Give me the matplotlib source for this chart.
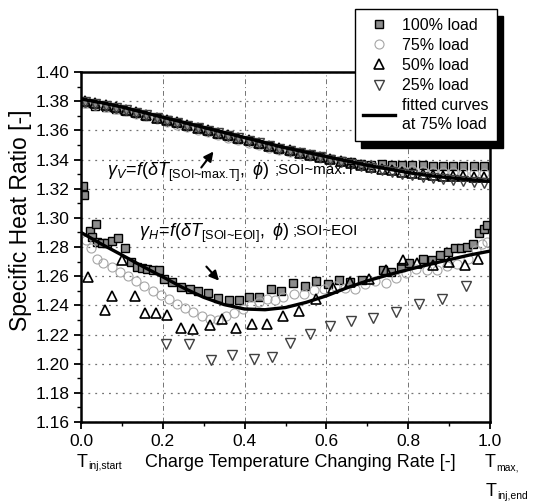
import numpy as np
import matplotlib
matplotlib.use("Agg")
import matplotlib.pyplot as plt
from matplotlib.patches import Rectangle

plt.rcParams['font.family'] = ['Liberation Sans', 'DejaVu Sans']
plt.rcParams['mathtext.fontset'] = 'custom'
plt.rcParams['mathtext.rm'] = 'Liberation Sans'
plt.rcParams['mathtext.it'] = 'Liberation Sans:italic'
plt.rcParams['mathtext.bf'] = 'Liberation Sans:bold'

# --- data ---
# upper group (gamma_V), common x positions
x_up = [0.010, 0.035, 0.060, 0.085, 0.110, 0.135, 0.160, 0.185, 0.210, 0.235,
        0.260, 0.285, 0.310, 0.335, 0.360, 0.385, 0.410, 0.435, 0.460, 0.485,
        0.510, 0.535, 0.560, 0.585, 0.610, 0.635, 0.660, 0.685, 0.710, 0.735,
        0.760, 0.785, 0.810, 0.835, 0.860, 0.885, 0.910, 0.935, 0.960, 0.985]
up_100 = [1.3785, 1.3770, 1.3762, 1.3748, 1.3735, 1.3718, 1.3700, 1.3685, 1.3668, 1.3650,
          1.3632, 1.3615, 1.3595, 1.3578, 1.3560, 1.3542, 1.3525, 1.3508, 1.3490, 1.3475,
          1.3458, 1.3445, 1.3432, 1.3418, 1.3405, 1.3392, 1.3382, 1.3372, 1.3365, 1.3368,
          1.3365, 1.3362, 1.3360, 1.3360, 1.3358, 1.3358, 1.3357, 1.3357, 1.3356, 1.3356]
up_100_start_x = [0.004, 0.007]
up_100_start_y = [1.3220, 1.3160]
up_75 = [1.3790, 1.3775, 1.3760, 1.3745, 1.3730, 1.3712, 1.3695, 1.3676, 1.3658, 1.3640,
         1.3622, 1.3605, 1.3587, 1.3568, 1.3550, 1.3533, 1.3515, 1.3498, 1.3482, 1.3467,
         1.3452, 1.3438, 1.3424, 1.3410, 1.3398, 1.3386, 1.3375, 1.3364, 1.3354, 1.3345,
         1.3337, 1.3330, 1.3325, 1.3320, 1.3316, 1.3313, 1.3311, 1.3310, 1.3309, 1.3308]
up_50 = [1.3800, 1.3786, 1.3772, 1.3757, 1.3741, 1.3724, 1.3706, 1.3688, 1.3671, 1.3654,
         1.3636, 1.3619, 1.3601, 1.3584, 1.3566, 1.3549, 1.3531, 1.3514, 1.3496, 1.3480,
         1.3463, 1.3448, 1.3433, 1.3419, 1.3404, 1.3390, 1.3376, 1.3362, 1.3349, 1.3337,
         1.3326, 1.3315, 1.3306, 1.3298, 1.3292, 1.3288, 1.3285, 1.3284, 1.3283, 1.3282]
up_25 = [1.3795, 1.3782, 1.3768, 1.3753, 1.3737, 1.3720, 1.3702, 1.3684, 1.3667, 1.3650,
         1.3632, 1.3615, 1.3597, 1.3580, 1.3562, 1.3545, 1.3527, 1.3510, 1.3492, 1.3475,
         1.3459, 1.3444, 1.3429, 1.3414, 1.3399, 1.3384, 1.3369, 1.3355, 1.3341, 1.3328,
         1.3316, 1.3304, 1.3293, 1.3283, 1.3274, 1.3266, 1.3259, 1.3252, 1.3246, 1.3240]

# lower group (gamma_H)
lo_100_x = [0.023, 0.037, 0.027, 0.039, 0.051, 0.064, 0.076, 0.090, 0.107, 0.122,
            0.137, 0.150, 0.162, 0.175, 0.190, 0.204, 0.223, 0.245, 0.266, 0.287,
            0.311, 0.335, 0.361, 0.386, 0.411, 0.436, 0.464, 0.489, 0.519, 0.548,
            0.575, 0.603, 0.632, 0.658, 0.687, 0.738, 0.758, 0.783, 0.803, 0.836,
            0.858, 0.878, 0.898, 0.915, 0.930, 0.944, 0.958, 0.974, 0.985, 0.993]
lo_100_y = [1.2908, 1.2960, 1.2867, 1.2832, 1.2826, 1.2830, 1.2844, 1.2860, 1.2790, 1.2696,
            1.2665, 1.2655, 1.2646, 1.2640, 1.2642, 1.2580, 1.2563, 1.2524, 1.2512, 1.2496,
            1.2487, 1.2450, 1.2440, 1.2434, 1.2456, 1.2460, 1.2514, 1.2500, 1.2552, 1.2530,
            1.2570, 1.2543, 1.2571, 1.2560, 1.2571, 1.2645, 1.2628, 1.2663, 1.2690, 1.2720,
            1.2708, 1.2743, 1.2765, 1.2790, 1.2795, 1.2800, 1.2823, 1.2898, 1.2926, 1.2949]
lo_75_x = [0.012, 0.025, 0.038, 0.055, 0.075, 0.095, 0.115, 0.135, 0.155, 0.175,
           0.195, 0.215, 0.235, 0.255, 0.275, 0.295, 0.315, 0.335, 0.355, 0.375,
           0.395, 0.415, 0.435, 0.455, 0.475, 0.495, 0.520, 0.545, 0.570, 0.595,
           0.620, 0.645, 0.670, 0.695, 0.720, 0.745, 0.770, 0.795, 0.820, 0.845,
           0.870, 0.895, 0.920, 0.945, 0.965, 0.980, 0.993]
lo_75_y = [1.2850, 1.2790, 1.2715, 1.2690, 1.2660, 1.2630, 1.2600, 1.2570, 1.2535, 1.2500,
           1.2470, 1.2445, 1.2410, 1.2385, 1.2355, 1.2330, 1.2305, 1.2300, 1.2330, 1.2345,
           1.2375, 1.2400, 1.2420, 1.2445, 1.2435, 1.2460, 1.2480, 1.2475, 1.2505, 1.2510,
           1.2530, 1.2520, 1.2510, 1.2545, 1.2570, 1.2555, 1.2590, 1.2620, 1.2650, 1.2640,
           1.2640, 1.2670, 1.2685, 1.2720, 1.2780, 1.2820, 1.2835]
lo_50_x = [0.017, 0.058, 0.077, 0.100, 0.133, 0.157, 0.183, 0.210, 0.245, 0.273,
           0.315, 0.344, 0.379, 0.418, 0.454, 0.494, 0.532, 0.575, 0.616, 0.658,
           0.703, 0.745, 0.788, 0.822, 0.860, 0.900, 0.939, 0.971]
lo_50_y = [1.2594, 1.2366, 1.2462, 1.2713, 1.2462, 1.2350, 1.2350, 1.2331, 1.2244, 1.2240,
           1.2265, 1.2304, 1.2247, 1.2270, 1.2275, 1.2324, 1.2361, 1.2446, 1.2520, 1.2560,
           1.2583, 1.2640, 1.2709, 1.2690, 1.2680, 1.2695, 1.2674, 1.2720]
lo_25_x = [0.208, 0.263, 0.318, 0.370, 0.422, 0.467, 0.511, 0.560, 0.609, 0.660,
           0.715, 0.770, 0.827, 0.883, 0.941]
lo_25_y = [1.2132, 1.2137, 1.2027, 1.2057, 1.2035, 1.2046, 1.2141, 1.2206, 1.2256, 1.2292,
           1.2316, 1.2354, 1.2411, 1.2446, 1.2530]

# fitted curves at 75% load
fit_x = [0.00, 0.05, 0.10, 0.15, 0.20, 0.25, 0.30, 0.35, 0.40, 0.45, 0.50,
         0.55, 0.60, 0.65, 0.70, 0.75, 0.80, 0.85, 0.90, 0.95, 1.00]
fit_v = [1.3815, 1.3790, 1.3760, 1.3725, 1.3690, 1.3655, 1.3620, 1.3585, 1.3550, 1.3515, 1.3480,
         1.3450, 1.3420, 1.3390, 1.3360, 1.3335, 1.3310, 1.3290, 1.3275, 1.3262, 1.3250]
fit_h = [1.2900, 1.2820, 1.2745, 1.2668, 1.2595, 1.2520, 1.2455, 1.2405, 1.2375, 1.2370, 1.2385,
         1.2420, 1.2465, 1.2520, 1.2568, 1.2608, 1.2645, 1.2680, 1.2713, 1.2745, 1.2772]

# --- figure ---
fig = plt.figure(figsize=(5.33, 5.01), dpi=100)
ax = fig.add_axes([81/533, 1-422/501, 409/533, 350/501])

sq = dict(marker='s', ls='none', ms=5.5, mfc='0.55', mec='black', mew=1.0)
ci = dict(marker='o', ls='none', ms=6.5, mfc='none', mec='0.65', mew=0.8)
tu = dict(marker='^', ls='none', ms=6.5, mfc='none', mec='black', mew=1.2)
td = dict(marker='v', ls='none', ms=7, mfc='none', mec='0.25', mew=1.0)

h100, = ax.plot(lo_100_x, lo_100_y, **sq)
ax.plot(x_up, up_100, **sq)
ax.plot(up_100_start_x, up_100_start_y, **sq)
h75, = ax.plot(lo_75_x, lo_75_y, **ci)
ax.plot(x_up, up_75, **ci)
h50, = ax.plot(lo_50_x, lo_50_y, **tu)
ax.plot(x_up, up_50, **tu)
h25, = ax.plot(lo_25_x, lo_25_y, **td)
ax.plot(x_up, up_25, **td)
hfit, = ax.plot(fit_x, fit_h, color='black', lw=2.4)
ax.plot(fit_x, fit_v, color='black', lw=2.4)

ax.set_xlim(0, 1.0)
ax.set_ylim(1.16, 1.40)
ax.set_xticks(np.arange(0, 1.01, 0.2))
ax.set_xticks(np.arange(0, 1.01, 0.1), minor=True)
ax.set_yticks(np.arange(1.16, 1.401, 0.02))
ax.set_yticks(np.arange(1.16, 1.401, 0.01), minor=True)
ax.set_xticklabels([f"{v:.1f}" for v in np.arange(0, 1.01, 0.2)])
ax.set_yticklabels([f"{v:.2f}" for v in np.arange(1.16, 1.401, 0.02)])
ax.tick_params(which='major', direction='out', length=5, width=1.3, labelsize=12.5)
ax.tick_params(which='minor', direction='out', length=3, width=1.0)
for s in ax.spines.values():
    s.set_linewidth(1.8)
ax.xaxis.grid(True, color='0.45', linestyle=(0, (5, 3, 1, 3)), linewidth=0.7)
ax.yaxis.grid(True, color='0.45', linestyle=(0, (1.5, 4)), linewidth=0.9)
ax.set_axisbelow(True)

# formulas + arrows
tv = ax.text(0.064, 1.3285, r'$\gamma_V\!=\!f(\delta T_{\text{[SOI~max.T]}},\ \phi)$',
             fontsize=13, ha='left', va='baseline')
ax.annotate(';SOI~max.T', xy=(1, 0), xycoords=tv, xytext=(3, 5.5),
            textcoords='offset points', fontsize=11, ha='left', va='bottom')
ax.annotate('', xy=(0.328, 1.3470), xytext=(0.290, 1.3330),
            arrowprops=dict(arrowstyle='-|>', color='black', lw=1.5, mutation_scale=14))
th = ax.text(0.141, 1.2866, r'$\gamma_H\!=\!f(\delta T_{\text{[SOI~EOI]}},\ \phi)$',
             fontsize=13, ha='left', va='baseline')
ax.annotate(';SOI~EOI', xy=(1, 0), xycoords=th, xytext=(3, 5.5),
            textcoords='offset points', fontsize=11, ha='left', va='bottom')
ax.annotate('', xy=(0.342, 1.2555), xytext=(0.302, 1.2680),
            arrowprops=dict(arrowstyle='-|>', color='black', lw=1.5, mutation_scale=14))

# axis labels
fig.text(21/533, 1-220/501, 'Specific Heat Ratio [-]', rotation=90,
         ha='center', va='center', fontsize=16.5)
fig.text(300/533, 1-467/501, 'Charge Temperature Changing Rate [-]',
         ha='center', va='baseline', fontsize=13)
fig.text(77/533, 1-467/501, 'T', ha='left', va='baseline', fontsize=13)
fig.text(88/533, 1-469/501, 'inj,start', ha='left', va='baseline', fontsize=7.5)
fig.text(485/533, 1-467/501, 'T', ha='left', va='baseline', fontsize=13)
fig.text(496/533, 1-470/501, 'max,', ha='left', va='baseline', fontsize=7.5)
fig.text(486/533, 1-496/501, 'T', ha='left', va='baseline', fontsize=13)
fig.text(497/533, 1-499/501, 'inj,end', ha='left', va='baseline', fontsize=7.5)

# legend with hard black shadow
leg = fig.legend([h100, h75, h50, h25, hfit],
                 ['100% load', '75% load', '50% load', '25% load', 'fitted curves\nat 75% load'],
                 loc='upper right', bbox_to_anchor=(497/533, 1-9/501), fontsize=11.5,
                 frameon=True, fancybox=False, framealpha=1, edgecolor='black',
                 handlelength=2.0, handletextpad=0.4, labelspacing=0.32, borderpad=0.55,
                 borderaxespad=0)
for t in leg.get_texts():
    t.set_linespacing(1.3)
leg.get_frame().set_linewidth(1.0)
leg.set_zorder(6)
fig.canvas.draw()
bb = leg.get_window_extent()
W, H = fig.bbox.width, fig.bbox.height
fig.add_artist(Rectangle(((bb.x0 + 6) / W, (bb.y0 - 7) / H), bb.width / W, bb.height / H,
                         transform=fig.transFigure, color='black', zorder=5))

fig.savefig("out.png", dpi=100)
